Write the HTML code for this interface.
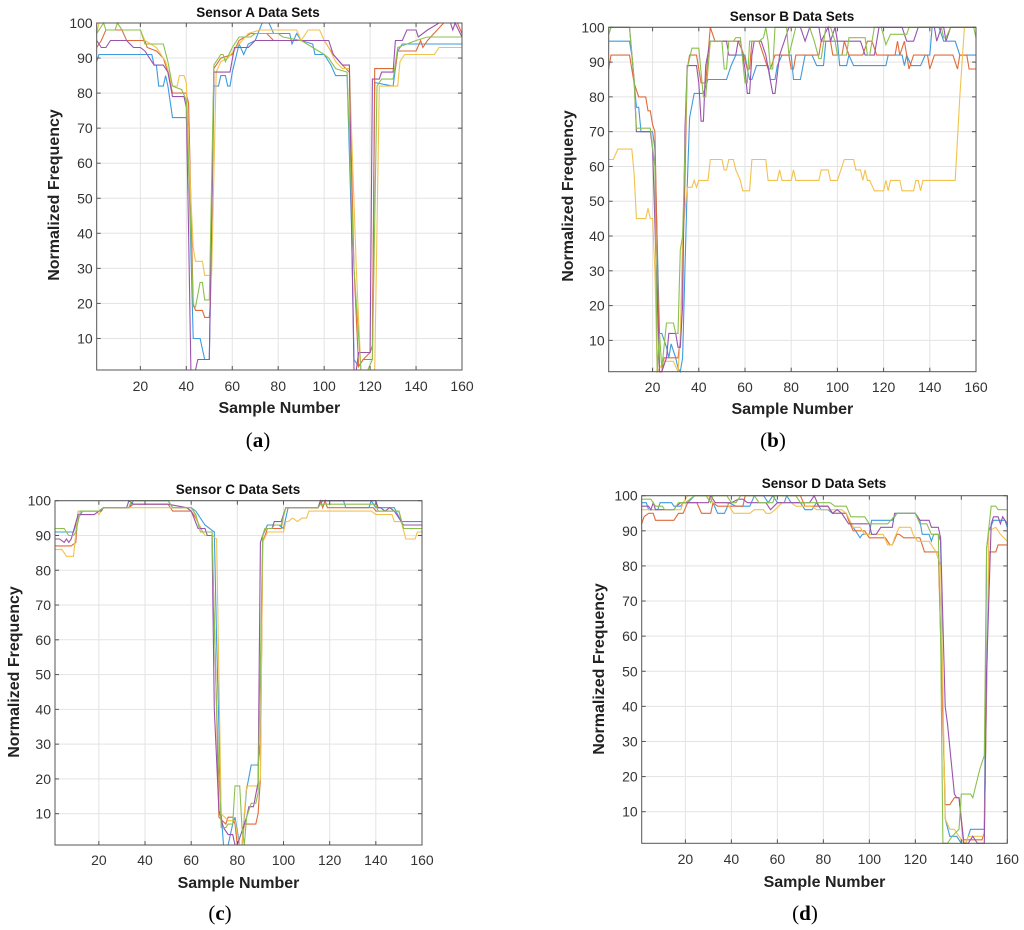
<!DOCTYPE html>
<html><head><meta charset="utf-8"><style>
body{margin:0;background:#fff}
svg{display:block;font-family:"Liberation Sans",sans-serif}
</style></head><body>
<svg id="fig" width="1024" height="930" viewBox="0 0 1024 930" xmlns="http://www.w3.org/2000/svg"></svg>
<script>
const xTicks=[20,40,60,80,100,120,140,160];
const yTicks=[10,20,30,40,50,60,70,80,90,100];
const seriesNames=['blue','red','yellow','purple','green'];
const colors=['#3d9be0','#e06a3a','#f2c24e','#9a52ad','#8bc04f'];

const aBlue=[[1,89],[2,91],[25,91],[26,88],[27,88],[28,82],[30,82],[31,85],[32,82],[34,73],[40,73],[41,60],[43,10],[46,10],[48,4],[50,4],[51,40],[52,82],[54,82],[55,85],[57,85],[58,82],[59,82],[60,86],[63,94],[65,91],[67,94],[70,95],[73,100],[76,100],[78,97],[85,97],[86,94],[88,97],[90,95],[95,94],[96,91],[100,91],[103,88],[105,85],[110,85],[112,40],[113,4],[115,2],[117,4],[121,4],[122,83],[130,82],[132,92],[134,94],[160,94]];
const aRed=[[1,93],[3,95],[5,98],[12,98],[14,95],[22,95],[23,93],[27,92],[30,90],[32,86],[34,80],[40,80],[41,77],[43,20],[44,18],[47,18],[48,16],[50,16],[50.5,20],[52,87],[55,90],[60,91],[63,95],[68,97],[75,97],[78,95],[100,95],[102,93],[104,91],[108,88],[111,86],[113,30],[115,2],[117,4],[120,6],[121,8],[122,87],[131,87],[132,92],[140,92],[142,95],[143,93],[145,95],[152,100],[158,100],[160,97]];
const aYellow=[[1,97],[2,100],[10,100],[12,98],[20,98],[22,95],[27,93],[31,89],[34,82],[36,82],[37,85],[39,85],[40,83],[42,50],[43,36],[44,32],[47,32],[48,28],[51,28],[53,86],[55,89],[58,90],[63,94],[67,97],[72,98],[88,98],[90,95],[93,98],[98,98],[100,95],[102,93],[105,89],[108,87],[111,87],[114,30],[116,1],[122,1],[124,82],[132,82],[133,89],[135,91],[148,91],[150,93],[160,93]];
const aGreen=[[1,97],[4,100],[5,98],[9,98],[10,100],[12,98],[20,98],[22,94],[30,94],[32,89],[34,82],[38,81],[40,78],[42,40],[43,19],[44,19],[46,26],[47,26],[48,21],[50,21],[52,88],[55,91],[56,91],[57,89],[60,93],[63,96],[68,96],[70,97],[80,97],[82,96],[90,95],[95,93],[100,91],[102,90],[105,87],[110,86],[113,30],[116,1],[119,1],[121,4],[123,82],[125,84],[130,84],[132,93],[140,95],[145,96],[160,96]];
const aPurple=[[1,95],[3,93],[5,93],[7,95],[14,95],[17,93],[20,93],[22,92],[24,90],[26,88],[30,88],[32,86],[34,79],[39,79],[40,76],[41,40],[42,0],[44,0],[45,4],[50,4],[52,86],[59,86],[61,93],[67,93],[70,95],[102,95],[104,91],[108,88],[111,88],[112,40],[113,1],[114,1],[115,6],[120,6],[121,84],[124,84],[125,86],[130,86],[131,95],[134,95],[136,98],[140,98],[141,96],[145,98],[150,100],[155,100],[156,98],[157,100],[160,96]];

const bBlue=[[1,96],[10,96],[11,92],[13,77],[14,77],[15,70],[20,70],[21,65],[23,12],[24,12],[26,8],[27,5],[28,9],[30,5],[31,2],[32,1],[33,5],[34,30],[35,54],[36,74],[38,81],[42,81],[44,85],[52,85],[54,89],[56,92],[60,92],[61,88],[62,85],[63,85],[65,89],[70,89],[71,85],[73,85],[74,89],[76,92],[80,92],[81,85],[84,85],[86,92],[89,92],[91,89],[94,89],[95,96],[100,96],[101,89],[104,89],[105,92],[107,89],[121,89],[122,92],[128,92],[129,89],[130,92],[132,89],[136,89],[138,92],[140,92],[141,100],[144,100],[146,96],[151,96],[153,92],[160,92]];
const bRed=[[1,88],[2,92],[10,92],[12,84],[14,80],[17,80],[18,76],[19,76],[20,72],[21,70],[23,1],[24,1],[25,5],[31,5],[32,10],[34,55],[35,88],[36,92],[39,92],[41,84],[43,84],[45,100],[47,96],[57,96],[59,93],[61,88],[62,88],[63,96],[66,96],[68,92],[70,88],[71,88],[73,92],[79,92],[80,88],[81,88],[82,92],[92,92],[93,96],[97,96],[98,92],[102,92],[103,96],[105,92],[111,92],[113,96],[115,96],[117,92],[125,92],[126,96],[127,92],[129,96],[131,88],[133,92],[139,92],[140,88],[142,92],[150,92],[152,88],[153,92],[156,92],[157,88],[160,88]];
const bYellow=[[1,62],[3,62],[5,65],[11,65],[12,58],[13,45],[17,45],[18,48],[19,45],[20,45],[21,30],[22,0],[25,4],[29,4],[31,1],[32,10],[33,40],[35,54],[37,54],[38,56],[39,54],[40,56],[44,56],[45,62],[50,62],[51,59],[52,59],[53,62],[55,62],[56,59],[58,56],[59,53],[62,53],[63,62],[69,62],[70,56],[74,56],[75,59],[76,56],[80,56],[81,59],[82,56],[92,56],[93,59],[96,59],[97,56],[100,56],[103,62],[107,62],[108,59],[110,59],[111,56],[112,59],[113,56],[114,56],[116,53],[120,53],[121,56],[122,53],[123,56],[127,56],[128,53],[133,53],[134,56],[135,56],[136,53],[137,56],[151,56],[153,80],[155,100],[160,100]];
const bPurple=[[1,98],[2,100],[10,100],[12,85],[13,70],[19,70],[20,65],[23,1],[24,1],[26,5],[27,12],[30,12],[31,8],[32,8],[33,20],[34,70],[35,89],[39,89],[40,84],[41,73],[42,73],[43,89],[45,96],[52,96],[53,92],[56,92],[57,96],[58,96],[59,92],[60,88],[61,81],[62,81],[63,92],[64,96],[67,96],[69,92],[72,81],[73,81],[75,92],[77,96],[79,100],[84,100],[86,96],[88,100],[92,100],[93,96],[96,100],[97,96],[99,100],[100,96],[110,96],[112,92],[116,92],[118,100],[128,100],[130,96],[133,96],[135,100],[142,100],[143,96],[145,100],[146,100],[147,96],[149,100],[160,100]];
const bGreen=[[1,98],[2,100],[10,100],[12,85],[13,71],[19,71],[21,60],[22,0],[23,12],[24,2],[26,15],[29,15],[30,12],[31,12],[32,36],[33,40],[35,88],[37,94],[40,94],[42,80],[43,80],[45,96],[50,96],[51,88],[52,88],[53,96],[55,96],[56,97],[58,97],[60,84],[61,84],[62,96],[66,96],[68,97],[69,100],[70,96],[71,88],[72,88],[73,100],[78,100],[79,92],[82,100],[88,100],[90,96],[92,91],[93,91],[95,100],[97,100],[99,96],[100,92],[104,92],[105,97],[112,97],[113,92],[114,92],[116,100],[119,100],[121,95],[123,98],[130,98],[131,100],[145,100],[146,97],[147,97],[149,100],[159,100],[160,97]];

const cBlue=[[1,91],[9,91],[11,95],[13,97],[20,97],[22,98],[33,98],[35,100],[50,100],[52,98],[60,98],[62,97],[66,93],[70,91],[71,60],[73,10],[74,0],[76,0],[78,7],[79,9],[81,0],[82,0],[84,17],[86,24],[89,24],[90,30],[91,90],[93,93],[98,93],[100,92],[102,98],[115,98],[117,100],[126,100],[127,98],[137,98],[138,100],[140,98],[148,98],[151,94],[160,94]];
const cRed=[[1,87],[8,87],[10,88],[11,97],[20,97],[22,98],[33,98],[35,99],[50,99],[52,97],[60,97],[62,95],[65,91],[69,91],[71,40],[72,9],[75,7],[76,9],[78,9],[79,7],[80,0],[82,0],[83,7],[88,7],[89,10],[90,20],[91,88],[93,92],[99,92],[100,96],[101,98],[115,98],[116,100],[117,98],[118,100],[119,98],[139,98],[140,97],[150,97],[152,92],[160,92]];
const cYellow=[[1,86],[4,86],[6,84],[9,84],[11,97],[19,97],[20,96],[22,98],[60,98],[61,97],[64,92],[66,90],[69,90],[71,89],[73,10],[76,8],[79,8],[80,4],[81,0],[82,0],[83,10],[84,18],[89,18],[90,20],[91,88],[93,91],[100,91],[101,94],[102,94],[104,95],[106,94],[108,95],[110,95],[111,97],[138,97],[140,96],[147,96],[148,94],[151,94],[153,89],[157,89],[158,91],[160,91]];
const cPurple=[[1,89],[3,89],[5,88],[6,89],[7,88],[8,89],[11,96],[18,96],[20,97],[21,97],[22,98],[32,98],[33,100],[35,99],[50,99],[58,98],[60,97],[63,92],[66,92],[67,90],[69,90],[70,40],[72,11],[74,6],[76,4],[78,4],[79,1],[80,0],[82,5],[84,9],[85,12],[87,12],[89,19],[90,88],[92,92],[95,92],[96,94],[99,94],[101,98],[115,98],[116,100],[140,100],[141,98],[142,98],[144,97],[146,98],[148,97],[152,93],[160,93]];
const cGreen=[[1,92],[5,92],[7,90],[9,90],[10,91],[12,97],[20,97],[22,98],[33,98],[34,100],[50,100],[52,98],[60,98],[62,96],[64,91],[69,91],[71,40],[73,6],[75,6],[76,7],[78,7],[79,18],[81,18],[82,6],[83,0],[84,9],[86,13],[88,13],[89,16],[91,90],[92,92],[95,92],[96,93],[99,93],[101,98],[115,98],[116,99],[140,99],[141,97],[150,97],[152,92],[160,92]];

const dBlue=[[1,98],[3,98],[4,96],[8,96],[9,98],[14,98],[15,97],[18,97],[19,98],[21,98],[24,100],[30,100],[32,98],[34,95],[37,95],[39,98],[42,97],[48,97],[50,100],[54,100],[56,98],[58,100],[60,98],[63,98],[64,100],[66,98],[70,98],[72,96],[75,96],[77,98],[79,96],[82,96],[84,95],[90,95],[91,93],[94,90],[96,88],[97,89],[100,89],[101,93],[110,93],[112,95],[120,95],[122,93],[123,89],[126,89],[127,87],[128,89],[130,89],[131,87],[132,40],[133,8],[135,3],[138,3],[140,0],[142,0],[143,3],[144,5],[150,5],[151,85],[152,90],[154,93],[159,93],[160,91]];
const dRed=[[1,92],[2,94],[4,95],[6,95],[7,93],[15,93],[17,95],[19,95],[21,98],[25,98],[27,95],[31,95],[32,98],[34,97],[45,97],[46,100],[70,100],[72,97],[82,97],[84,95],[90,95],[91,93],[93,90],[98,90],[99,89],[100,88],[107,88],[109,86],[110,86],[112,89],[113,89],[115,88],[122,88],[124,84],[130,84],[131,60],[133,12],[135,12],[137,14],[139,14],[141,2],[149,2],[150,4],[152,84],[155,84],[156,86],[160,86]];
const dYellow=[[1,96],[18,96],[19,98],[21,100],[30,100],[32,98],[38,98],[40,96],[41,95],[48,95],[50,96],[54,96],[55,95],[57,95],[59,96],[62,98],[66,98],[68,97],[75,97],[77,96],[88,96],[90,95],[93,91],[96,91],[98,89],[106,89],[108,86],[110,86],[111,88],[113,91],[118,91],[119,89],[121,87],[126,87],[129,84],[131,80],[133,8],[135,5],[137,5],[140,2],[142,1],[143,3],[150,3],[152,90],[155,91],[157,89],[160,87]];
const dPurple=[[1,97],[4,97],[5,96],[6,98],[7,96],[15,96],[16,97],[18,98],[30,98],[31,100],[33,98],[40,98],[43,99],[45,99],[47,98],[55,98],[57,96],[60,98],[74,98],[76,100],[78,97],[82,97],[84,95],[86,96],[88,95],[91,92],[100,92],[101,89],[103,89],[105,91],[110,91],[111,95],[120,95],[122,93],[126,93],[127,91],[130,91],[131,88],[133,40],[134,35],[137,15],[138,14],[139,14],[141,1],[143,0],[145,3],[147,1],[150,1],[151,50],[153,92],[154,94],[156,94],[157,92],[158,94],[160,92]];
const dGreen=[[1,99],[5,99],[7,97],[10,97],[11,96],[15,96],[17,98],[20,98],[22,99],[24,100],[29,100],[31,98],[32,100],[38,100],[40,98],[42,98],[44,100],[50,100],[52,98],[58,98],[59,100],[68,100],[70,98],[83,98],[85,97],[90,97],[92,94],[98,94],[100,92],[108,92],[112,95],[120,95],[122,92],[125,92],[127,89],[130,89],[131,60],[132,1],[134,1],[136,3],[139,5],[140,15],[144,15],[145,14],[148,22],[150,26],[151,85],[153,97],[155,97],[156,96],[160,96]];

const panels=[
 {id:'a',title:'Sensor A Data Sets',L:96.7,R:462,T:23,B:370,tx:258,ty:12,ylx:53,yly:195,xly:407,cap:'(a)',cx:258,cy:440,tick:386,data:[aBlue,aRed,aYellow,aPurple,aGreen]},
 {id:'b',title:'Sensor B Data Sets',L:608.7,R:976,T:27.3,B:371.7,tx:792,ty:16,ylx:567,yly:196,xly:408,cap:'(b)',cx:773,cy:440,tick:387,data:[bBlue,bRed,bYellow,bPurple,bGreen]},
 {id:'c',title:'Sensor C Data Sets',L:55,R:422,T:500.7,B:845,tx:238,ty:489,ylx:13,yly:672,xly:882,cap:'(c)',cx:220,cy:913,tick:860,data:[cBlue,cRed,cYellow,cPurple,cGreen]},
 {id:'d',title:'Sensor D Data Sets',L:641.7,R:1007.3,T:495.7,B:843.3,tx:824,ty:483,ylx:598,yly:669,xly:881,cap:'(d)',cx:805,cy:913,tick:859,data:[dBlue,dRed,dYellow,dPurple,dGreen]}
];
const NS='http://www.w3.org/2000/svg';
const svg=document.getElementById('fig');
function mk(tag,attrs,parent,txt){const e=document.createElementNS(NS,tag);for(const k in attrs)e.setAttribute(k,attrs[k]);if(txt!==undefined)e.textContent=txt;parent.appendChild(e);return e;}
panels.forEach(p=>{
 const g=mk('g',{},svg);
 
 
 const sx=v=>p.L+(v-1)/159*(p.R-p.L);
 const sy=v=>p.B-(v-1)/99*(p.B-p.T);
 const grid=mk('g',{stroke:'#e3e3e3','stroke-width':1},g);
 
 
 xTicks.forEach(t=>{mk('line',{x1:sx(t),x2:sx(t),y1:p.T,y2:p.B},grid);});
 yTicks.forEach(t=>{mk('line',{x1:p.L,x2:p.R,y1:sy(t),y2:sy(t)},grid);});
 const lines=mk('g',{fill:'none','stroke-width':1.1},g);
 p.data.forEach((s,i)=>{
  const d=s.map((pt,j)=>(j?'L':'M')+sx(pt[0]).toFixed(1)+','+sy(Math.max(1,pt[1])).toFixed(1)).join('');
  const el=mk('path',{d:d,stroke:colors[i]},lines);
  
  
 });
 const box=mk('rect',{x:p.L,y:p.T,width:p.R-p.L,height:p.B-p.T,fill:'none',stroke:'#555','stroke-width':1},g);
 
 
 xTicks.forEach(t=>{
  mk('line',{x1:sx(t),x2:sx(t),y1:p.B,y2:p.B-4,stroke:'#555'},g);
  mk('line',{x1:sx(t),x2:sx(t),y1:p.T,y2:p.T+4,stroke:'#555'},g);
  const tl=mk('text',{x:sx(t),y:p.tick+5,'text-anchor':'middle','font-size':14,fill:'#333'},g,String(t));
  
  
 });
 yTicks.forEach(t=>{
  mk('line',{x1:p.L,x2:p.L+4,y1:sy(t),y2:sy(t),stroke:'#555'},g);
  mk('line',{x1:p.R,x2:p.R-4,y1:sy(t),y2:sy(t),stroke:'#555'},g);
  const tl=mk('text',{x:p.L-4,y:sy(t)+5,'text-anchor':'end','font-size':14,fill:'#333'},g,String(t));
  
  
 });
 const ti=mk('text',{x:p.tx,y:p.ty+5,'text-anchor':'middle','font-size':13.5,'font-weight':'bold',fill:'#111'},g,p.title);
 
 
 const xl=mk('text',{x:(p.L+p.R)/2,y:p.xly+6,'text-anchor':'middle','font-size':16,'font-weight':'bold',fill:'#222'},g,'Sample Number');
 
 
 const yl=mk('text',{x:0,y:0,'text-anchor':'middle','font-size':16,'font-weight':'bold',fill:'#222',transform:'translate('+(p.ylx+6)+','+p.yly+') rotate(-90)'},g,'Normalized Frequency');
 
 
 const cp=mk('text',{x:p.cx,y:p.cy+7,'text-anchor':'middle','font-size':21,fill:'#000','font-family':'Liberation Serif, serif'},g,'');
 
 
 mk('tspan',{},cp,'(');
 mk('tspan',{'font-weight':'bold'},cp,p.id);
 mk('tspan',{},cp,')');
});
</script>
</body></html>
